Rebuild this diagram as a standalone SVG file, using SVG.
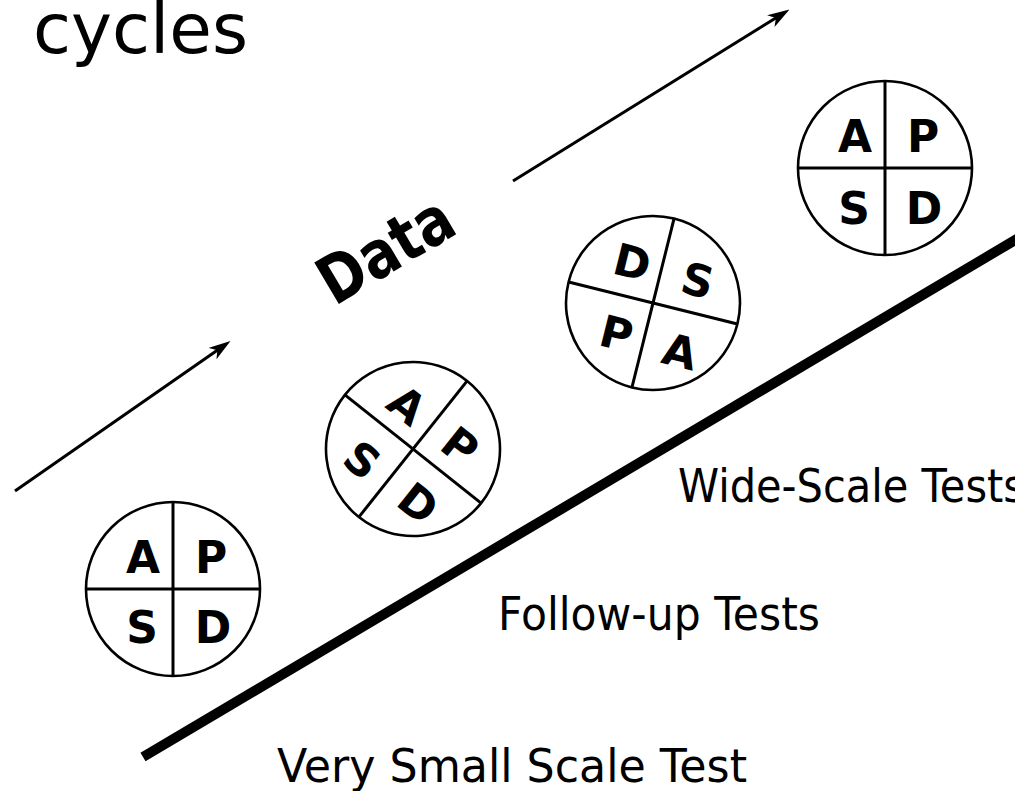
<svg xmlns="http://www.w3.org/2000/svg" width="1015" height="791" viewBox="0 0 1015 791">
<style>
.ring{fill:#fff;stroke:#000;stroke-width:2.6}
.cross{stroke:#000;stroke-width:3}
.let{font-family:"DejaVu Sans",Verdana,sans-serif;font-weight:bold;font-size:44px;fill:#000;text-anchor:middle}
.lbl{font-family:"DejaVu Sans",Verdana,sans-serif;font-size:46px;fill:#000}
.arrow{stroke:#000;stroke-width:3;fill:none}
</style>
<defs>
<marker id="head" viewBox="0 0 22 14" refX="12" refY="7" markerWidth="22" markerHeight="14" markerUnits="userSpaceOnUse" orient="auto">
<path d="M22 7 L0 0 L6 7 L0 14 Z" fill="#000"/>
</marker>
<g id="pdsa-cross">
<circle class="ring" cx="0" cy="0" r="87"/>
<line class="cross" x1="0" y1="-87" x2="0" y2="87"/>
<line class="cross" x1="-87" y1="0" x2="87" y2="0"/>
</g>
</defs>
<rect width="1015" height="791" fill="#fff"/>
<text id="title" class="lbl" x="33" y="53" style="font-size:70px" textLength="215" lengthAdjust="spacingAndGlyphs">cycles</text>
<g id="connectors">
<line class="arrow" x1="15" y1="491" x2="222.3" y2="346.7" marker-end="url(#head)"/>
<line class="arrow" x1="513" y1="181" x2="781" y2="14.8" marker-end="url(#head)"/>
<line x1="143" y1="757" x2="1022" y2="236" stroke="#000" stroke-width="10"/>
</g>
<g id="data-label" transform="translate(337,305) rotate(-30.7)">
<text x="-3" y="0" font-family="DejaVu Sans, Verdana, sans-serif" font-weight="bold" font-size="66" textLength="146" lengthAdjust="spacingAndGlyphs">Data</text>
</g>
<g id="cycle1" transform="translate(173,589)">
<use href="#pdsa-cross"/>
<text class="let" x="-30" y="-16">A</text>
<text class="let" x="38" y="-16">P</text>
<text class="let" x="-31" y="54">S</text>
<text class="let" x="40" y="54">D</text>
</g>
<g id="cycle2" transform="translate(413,449) rotate(38.5)">
<use href="#pdsa-cross"/>
<text class="let" x="-32" y="-15">A</text>
<text class="let" x="35" y="-16">P</text>
<text class="let" x="-33" y="56">S</text>
<text class="let" x="38" y="55">D</text>
</g>
<g id="cycle3" transform="translate(653,303) rotate(14)">
<use href="#pdsa-cross"/>
<text class="let" x="-30" y="-19">D</text>
<text class="let" x="38" y="-17">S</text>
<text class="let" x="-28" y="54">P</text>
<text class="let" x="38" y="56">A</text>
</g>
<g id="cycle4" transform="translate(885,168)">
<use href="#pdsa-cross"/>
<text class="let" x="-30" y="-16">A</text>
<text class="let" x="38" y="-16">P</text>
<text class="let" x="-31" y="56">S</text>
<text class="let" x="39" y="56">D</text>
</g>
<g id="stage-labels">
<text class="lbl" x="678" y="502" textLength="347" lengthAdjust="spacingAndGlyphs">Wide-Scale Tests</text>
<text class="lbl" x="498" y="630" textLength="322" lengthAdjust="spacingAndGlyphs">Follow-up Tests</text>
<text class="lbl" x="277" y="782" textLength="470" lengthAdjust="spacingAndGlyphs">Very Small Scale Test</text>
</g>
</svg>
